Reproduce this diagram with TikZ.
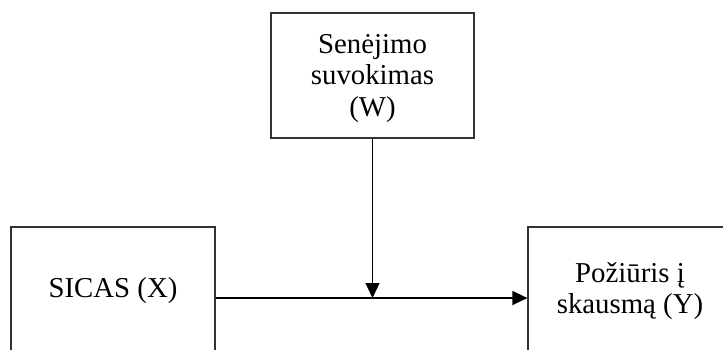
\documentclass[tikz,border=0pt]{standalone}
\usepackage{fontspec}
\setmainfont{Liberation Serif}
\usetikzlibrary{arrows.meta}
\begin{document}
\begin{tikzpicture}[x=1pt,y=-1pt,
  box/.style={draw=black!80!white,line width=1.2pt,inner sep=0pt},
  txt/.style={inner sep=0pt,align=center,font=\fontsize{28.8}{31.5}\selectfont},
  conn/.style={line width=1.2pt,-{Triangle[length=15pt,width=14pt]}}]
\useasboundingbox (0,0) rectangle (723,349);
\clip (0,0) rectangle (723,349);
\node[box,minimum width=203pt,minimum height=125pt] (w) at (372.5,75.5) {};
\node[txt] (wt) at ([yshift=-3pt]w.center) {Senėjimo\\suvokimas\\(W)};
\node[box,txt,minimum width=204pt,minimum height=128pt] (x) at (113,291) {SICAS (X)};
\node[box,txt,minimum width=204pt,minimum height=128pt] (y) at (630,291) {Požiūris į\\skausmą (Y)};
\coordinate (m) at (w.south |- 0,298);
\draw[conn] (x.east |- m) -- (y.west |- m);
\draw[conn] (w.south) -- (m);
\end{tikzpicture}
\end{document}
